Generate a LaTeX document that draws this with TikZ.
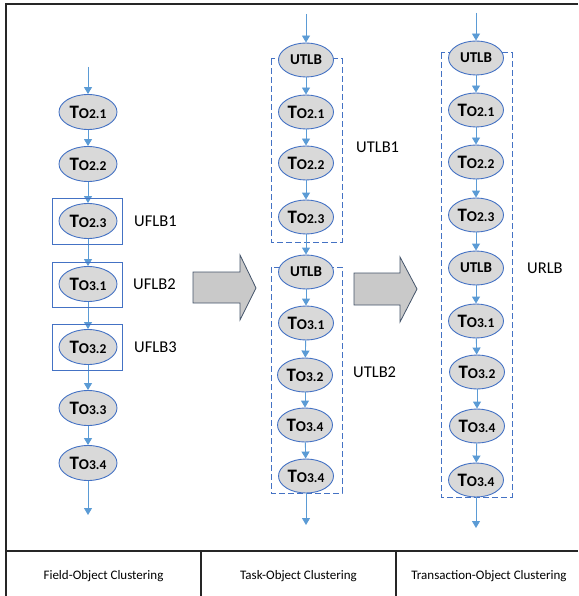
\documentclass[tikz,border=0pt]{standalone}
\usepackage{fontspec}
\setmainfont{Carlito}
\usetikzlibrary{shapes.geometric,arrows.meta}

\definecolor{ovalfill}{HTML}{D9D9D9}
\definecolor{ovaledge}{HTML}{4472C4}
\definecolor{flowblue}{HTML}{5B9BD5}
\definecolor{blockfill}{HTML}{C9C9C9}
\definecolor{blockedge}{HTML}{44546A}

\newcommand{\tobj}[1]{{\fontsize{19}{19}\selectfont T}{\fontsize{15}{15}\selectfont O}{\fontsize{13.5}{14}\selectfont #1}}

\tikzset{
  oval/.style={ellipse, draw=ovaledge, fill=ovalfill, line width=0.9pt,
    minimum width=58pt, minimum height=35pt, inner sep=0pt, font=\bfseries},
  ovalb/.style={oval, minimum width=55pt, minimum height=34pt},
  utlb/.style={ovalb, font=\bfseries\fontsize{15}{16}\selectfont},
  flow/.style={draw=flowblue, line width=0.9pt, -{Triangle[length=7pt,width=8pt]}},
  solidbox/.style={draw=ovaledge, line width=0.9pt},
  dashbox/.style={draw=ovaledge, line width=1pt, dash pattern=on 6pt off 3pt},
  boxlabel/.style={font=\fontsize{16.5}{18}\selectfont, anchor=west, inner sep=0pt},
  block/.style={fill=blockfill, draw=blockedge, line width=0.8pt},
  frame/.style={draw=black!85, line width=1.4pt},
  caption/.style={font=\fontsize{13}{15}\selectfont}
}

\begin{document}
\begin{tikzpicture}[x=1pt,y=-1pt]
\useasboundingbox (0,0) rectangle (578,596);

% outer frame and bottom caption row
\draw[frame] (578,4) -- (6,4) -- (6,596);
\draw[frame] (6,551) -- (578,551);
\draw[frame] (201,551) -- (201,596);
\draw[frame] (396,551) -- (396,596);
\node[caption] (capA) at (103.5,576) {Field-Object Clustering};
\node[caption] (capB) at (298.5,576) {Task-Object Clustering};
\node[caption] (capC) at (489,576) {Transaction-Object Clustering};

% ---- field-object column ----
\coordinate (aIn) at (88,67);
\node[oval] (a1) at (88,112) {\tobj{2.1}};
\node[oval] (a2) at (88,164) {\tobj{2.2}};
\node[oval] (a3) at (88,221) {\tobj{2.3}};
\node[oval] (a4) at (88,284) {\tobj{3.1}};
\node[oval] (a5) at (88,347) {\tobj{3.2}};
\node[oval] (a6) at (88,408) {\tobj{3.3}};
\node[oval] (a7) at (88,463) {\tobj{3.4}};
\coordinate (aOut) at (88,515);
\draw[flow] (aIn) -- (a1);
\draw[flow] (a1) -- (a2);
\draw[flow] (a2) -- (a3);
\draw[flow] (a3) -- (a4);
\draw[flow] (a4) -- (a5);
\draw[flow] (a5) -- (a6);
\draw[flow] (a6) -- (a7);
\draw[flow] (a7) -- (aOut);

\draw[solidbox] (52,198) rectangle (122,244);
\draw[solidbox] (52,262) rectangle (122,307);
\draw[solidbox] (52,324) rectangle (122,370);
\node[boxlabel] (u1) at (134,221) {UFLB1};
\node[boxlabel] (u2) at (133,284) {UFLB2};
\node[boxlabel] (u3) at (134,347) {UFLB3};

% ---- task-object column ----
\draw[dashbox] (271,59) rectangle (342,242);
\draw[dashbox] (271,267) rectangle (342,493);
\coordinate (bIn) at (306,14);
\node[utlb] (b0) at (306,60) {UTLB};
\node[ovalb] (b1) at (306,112) {\tobj{2.1}};
\node[ovalb] (b2) at (306,163) {\tobj{2.2}};
\node[ovalb] (b3) at (306,217) {\tobj{2.3}};
\node[utlb] (b4) at (306,272) {UTLB};
\node[ovalb] (b5) at (306,323) {\tobj{3.1}};
\node[ovalb] (b6) at (305,375) {\tobj{3.2}};
\node[ovalb] (b7) at (305,425) {\tobj{3.4}};
\node[ovalb] (b8) at (306,476) {\tobj{3.4}};
\coordinate (bOut) at (306,525);
\draw[flow] (bIn) -- (b0);
\draw[flow] (b0) -- (b1);
\draw[flow] (b1) -- (b2);
\draw[flow] (b2) -- (b3);
\draw[flow] (b3) -- (b4);
\draw[flow] (b4) -- (b5);
\draw[flow] (b5) -- (b6);
\draw[flow] (b6) -- (b7);
\draw[flow] (b7) -- (b8);
\draw[flow] (b8) -- (bOut);
\node[boxlabel] (t1) at (356,147) {UTLB1};
\node[boxlabel] (t2) at (353,372) {UTLB2};

% ---- transaction-object column ----
\draw[dashbox] (441,53) rectangle (512,497);
\coordinate (cIn) at (476,13);
\node[utlb] (c0) at (476,58) {UTLB};
\node[ovalb] (c1) at (476,110) {\tobj{2.1}};
\node[ovalb] (c2) at (476,162) {\tobj{2.2}};
\node[ovalb] (c3) at (476,215) {\tobj{2.3}};
\node[utlb] (c4) at (476,268) {UTLB};
\node[ovalb] (c5) at (476,321) {\tobj{3.1}};
\node[ovalb] (c6) at (477,372) {\tobj{3.2}};
\node[ovalb] (c7) at (477,426) {\tobj{3.4}};
\node[ovalb] (c8) at (476,480) {\tobj{3.4}};
\coordinate (cOut) at (476,528);
\draw[flow] (cIn) -- (c0);
\draw[flow] (c0) -- (c1);
\draw[flow] (c1) -- (c2);
\draw[flow] (c2) -- (c3);
\draw[flow] (c3) -- (c4);
\draw[flow] (c4) -- (c5);
\draw[flow] (c5) -- (c6);
\draw[flow] (c6) -- (c7);
\draw[flow] (c7) -- (c8);
\draw[flow] (c8) -- (cOut);
\node[boxlabel] (r1) at (527,268) {URLB};

% ---- block arrows between the stages ----
\draw[block] (193,272) -- (240,272) -- (240,255) -- (256,288) -- (240,320)
  -- (240,303) -- (193,303) -- cycle;
\draw[block] (354,273) -- (400,273) -- (400,257) -- (417,289) -- (400,322)
  -- (400,305) -- (354,305) -- cycle;
\end{tikzpicture}
\end{document}
